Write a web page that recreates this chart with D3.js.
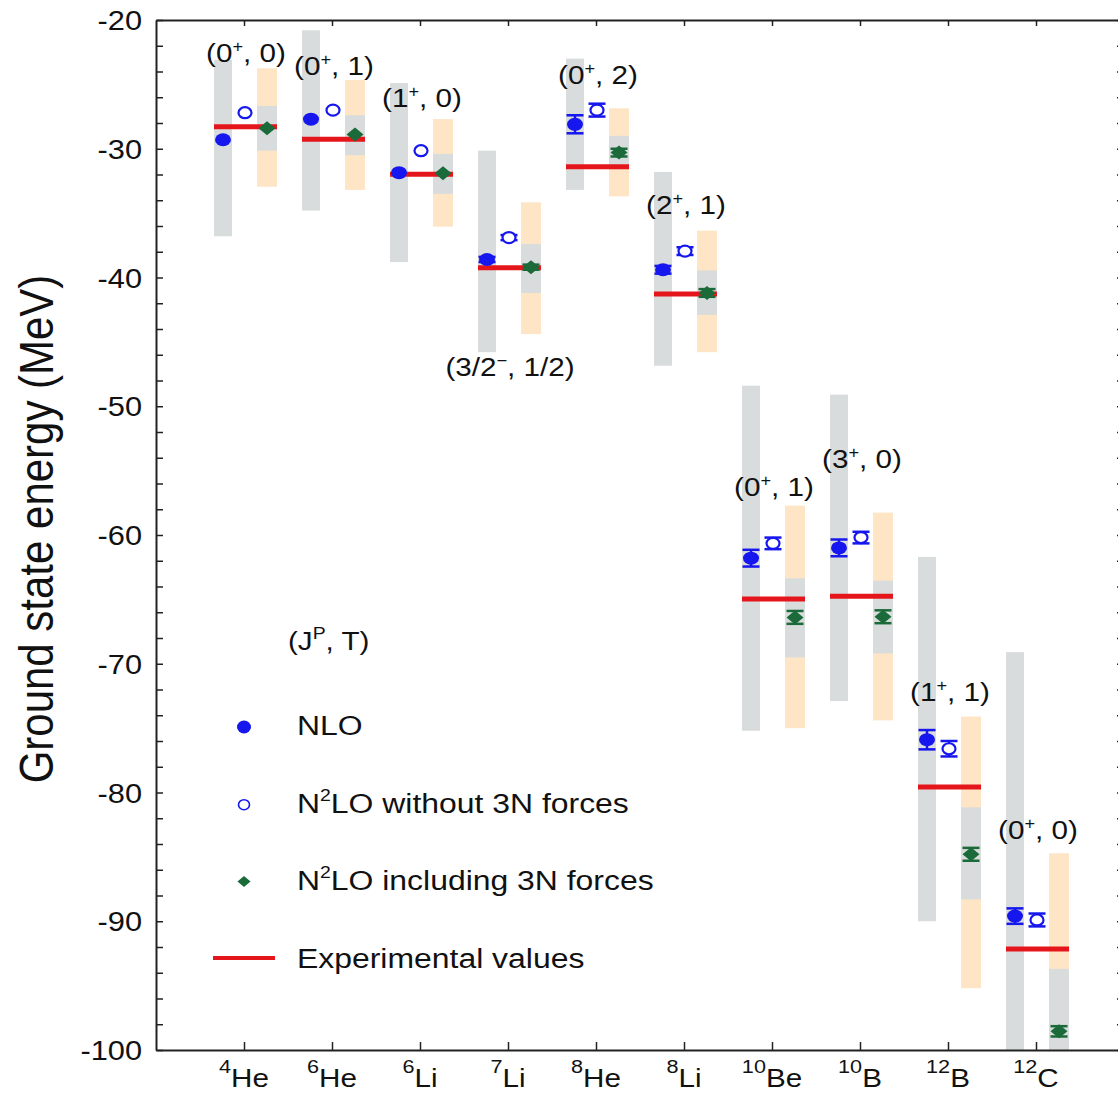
<!DOCTYPE html>
<html>
<head>
<meta charset="utf-8">
<script src="https://cdn.jsdelivr.net/npm/d3@7"></script>
<style>
  body { margin: 0; background: #fff; overflow: hidden; }
  text { font-family: "Liberation Sans", Arial, sans-serif; fill: #111; }
</style>
</head>
<body>
<svg id="chart" width="1118" height="1094"></svg>
<script>
// nuclei (x axis)
const massNumber = [4, 6, 6, 7, 8, 8, 10, 10, 12, 12]
const element = ['He', 'He', 'Li', 'Li', 'He', 'Li', 'Be', 'B', 'B', 'C']
const nuclei = massNumber.map((a, i) => a + element[i])

// quantum numbers (J^P, T) and the energy the label sits at
const spinJ = ['0', '0', '1', '3/2', '0', '2', '0', '3', '1', '0']
const parity = ['+', '+', '+', '\u2212', '+', '+', '+', '+', '+', '+']
const isospin = ['0', '1', '0', '1/2', '2', '1', '1', '0', '1', '0']
const labelE = [-22.7, -23.7, -26.2, -47.1, -24.4, -34.5, -56.4, -54.25, -72.35, -83.1]

// NLO uncertainty band (grey)
const nloBandTop = [-23.1, -20.8, -24.9, -30.15, -23.0, -31.8, -48.4, -49.1, -61.7, -69.1]
const nloBandBot = [-36.8, -34.8, -38.8, -45.8, -33.2, -46.85, -75.2, -72.9, -90.0, -110]
// N2LO uncertainty band (orange) with inner grey part
const n2loBandTop = [-23.75, -24.66, -27.7, -34.16, -26.86, -36.36, -57.72, -58.26, -74.1, -84.72]
const n2loBandBot = [-32.95, -33.2, -36.05, -44.4, -33.7, -45.8, -75.0, -74.4, -95.2, -112]
const n2loInnerTop = [-26.68, -27.4, -30.4, -37.4, -29.0, -39.45, -63.36, -63.55, -81.15, -93.7]
const n2loInnerBot = [-30.15, -30.5, -33.5, -41.2, -31.6, -42.9, -69.5, -69.2, -88.3, -104]

// central values and errors (MeV)
const nlo = [-29.3, -27.7, -31.86, -38.6, -28.1, -39.4, -61.8, -61.0, -75.9, -89.6]
const nloErr = [0, 0, 0, 0.2, 0.7, 0.3, 0.65, 0.65, 0.75, 0.6]
const n2lo = [-27.2, -27.0, -30.15, -36.9, -27.0, -37.95, -60.65, -60.2, -76.6, -89.9]
const n2loErr = [0, 0, 0, 0.2, 0.5, 0.3, 0.45, 0.45, 0.6, 0.5]
const n2lo3n = [-28.4, -28.9, -31.9, -39.2, -30.3, -41.2, -66.4, -66.35, -84.8, -98.55]
const n2lo3nErr = [0, 0, 0, 0.2, 0.3, 0.3, 0.5, 0.5, 0.5, 0.4]
const experiment = [-28.3, -29.27, -31.99, -39.24, -31.4, -41.28, -64.98, -64.75, -79.58, -92.16]

// axis + legend text
const yTicks = d3.range(-100, -19, 2)
const yTitle = 'Ground state energy (MeV)'
const legendTitle = [{ t: '(J' }, { t: 'P', sup: true }, { t: ', T)' }]
const legendLabels = [
  [{ t: 'NLO' }],
  [{ t: 'N' }, { t: '2', sup: true }, { t: 'LO without 3N forces' }],
  [{ t: 'N' }, { t: '2', sup: true }, { t: 'LO including 3N forces' }],
  [{ t: 'Experimental values' }],
]

// layout
const frame = { left: 156, right: 1124, top: 20, bottom: 1050 }
const SX = 1.14 // the original figure is a little stretched sideways
const col = { blue: '#1616ee', green: '#1b6a3a', red: '#e5161b', grey: '#d9dcdc', orange: '#fde5c5', axis: '#222' }

const rows = nuclei.map((name, i) => ({
  name, i,
  nloTop: nloBandTop[i], nloBot: nloBandBot[i],
  n2Top: n2loBandTop[i], n2Bot: n2loBandBot[i],
  inTop: n2loInnerTop[i], inBot: n2loInnerBot[i],
  nlo: nlo[i], nloErr: nloErr[i],
  n2lo: n2lo[i], n2loErr: n2loErr[i],
  n3: n2lo3n[i], n3Err: n2lo3nErr[i],
  exp: experiment[i],
}))

const x = d3.scalePoint().domain(nuclei).range([frame.left, frame.right]).padding(1)
const y = d3.scaleLinear().domain([-100, -20]).range([frame.bottom, frame.top])

const svg = d3.select('#chart')

// text helper: superscripts via tspans
function rich(sel, parts, supSize, shift) {
  let prevSup = false
  parts.forEach(p => {
    const ts = sel.append('tspan').text(p.t)
    if (p.sup) ts.attr('font-size', supSize).attr('dy', -shift)
    else if (prevSup) ts.attr('dy', shift)
    prevSup = !!p.sup
  })
  return sel
}
const place = (px, py, rot) => `translate(${px},${py}) scale(${SX},1)` + (rot ? ` rotate(${rot})` : '')

svg.append('defs').append('clipPath').attr('id', 'plot-clip')
  .append('rect')
    .attr('x', frame.left).attr('y', frame.top)
    .attr('width', frame.right - frame.left).attr('height', frame.bottom - frame.top)

// Bands
// =====
const plot = svg.append('g').attr('clip-path', 'url(#plot-clip)')
const band = (cls, dx, w, top, bot, fill) => plot.append('g').attr('class', cls)
  .selectAll('rect')
  .data(rows)
  .join('rect')
    .attr('x', d => x(d.name) + dx)
    .attr('width', w)
    .attr('y', d => y(top(d)))
    .attr('height', d => y(bot(d)) - y(top(d)))
    .attr('fill', fill)

band('nlo-band', -30, 18, d => d.nloTop, d => d.nloBot, col.grey)
band('n2lo-band', 13, 20, d => d.n2Top, d => d.n2Bot, col.orange)
band('n2lo-inner', 13, 20, d => d.inTop, d => d.inBot, col.grey)

// experimental values
plot.append('g').attr('class', 'exp')
  .selectAll('line')
  .data(rows)
  .join('line')
    .attr('x1', d => x(d.name) - 30)
    .attr('x2', d => x(d.name) + 33)
    .attr('y1', d => y(d.exp))
    .attr('y2', d => y(d.exp))
    .attr('stroke', col.red)
    .attr('stroke-width', 5)

// Points with error bars
// ======================
function errorBars(cls, dx, val, err, color) {
  const g = plot.append('g').attr('class', cls)
    .selectAll('g')
    .data(rows.filter(d => err(d) > 0))
    .join('g')
      .attr('transform', d => `translate(${x(d.name) + dx},0)`)
      .attr('stroke', color)
      .attr('stroke-width', 2.5)
  g.append('line').attr('y1', d => y(val(d) + err(d))).attr('y2', d => y(val(d) - err(d)))
  g.append('line').attr('x1', -8.5).attr('x2', 8.5).attr('y1', d => y(val(d) + err(d))).attr('y2', d => y(val(d) + err(d)))
  g.append('line').attr('x1', -8.5).attr('x2', 8.5).attr('y1', d => y(val(d) - err(d))).attr('y2', d => y(val(d) - err(d)))
}
errorBars('nlo-err', -21, d => d.nlo, d => d.nloErr, col.blue)
errorBars('n2lo-err', 1, d => d.n2lo, d => d.n2loErr, col.blue)
errorBars('n3-err', 23, d => d.n3, d => d.n3Err, col.green)

plot.append('g').attr('class', 'nlo')
  .selectAll('ellipse')
  .data(rows)
  .join('ellipse')
    .attr('cx', d => x(d.name) - 21)
    .attr('cy', d => y(d.nlo))
    .attr('rx', 8).attr('ry', 6.5)
    .attr('fill', col.blue)

plot.append('g').attr('class', 'n2lo')
  .selectAll('ellipse')
  .data(rows)
  .join('ellipse')
    .attr('cx', d => x(d.name) + 1)
    .attr('cy', d => y(d.n2lo))
    .attr('rx', 6.5).attr('ry', 5.5)
    .attr('fill', '#fff')
    .attr('stroke', col.blue)
    .attr('stroke-width', 2.2)

const diamond = (w, h) => `M0,${-h}L${w},0L0,${h}L${-w},0Z`
plot.append('g').attr('class', 'n2lo3n')
  .selectAll('path')
  .data(rows)
  .join('path')
    .attr('transform', d => `translate(${x(d.name) + 23},${y(d.n3)})`)
    .attr('d', diamond(8.5, 7))
    .attr('fill', col.green)

// (J^P, T) labels
svg.append('g').attr('class', 'qn')
  .selectAll('text')
  .data(rows)
  .join('text')
    .attr('transform', d => place(x(d.name) + 2, y(labelE[d.i]) + 7))
    .attr('text-anchor', 'middle')
    .attr('font-size', 26)
    .each(function (d) {
      rich(d3.select(this), [{ t: '(' + spinJ[d.i] }, { t: parity[d.i], sup: true }, { t: ', ' + isospin[d.i] + ')' }], 16, 10)
    })

// Axes
// ====
const axes = svg.append('g').attr('class', 'axes')
const yAxisL = axes.append('g')
    .attr('transform', `translate(${frame.left},0)`)
    .call(d3.axisLeft(y).tickValues(yTicks).tickSizeInner(-7).tickSizeOuter(0)
      .tickFormat(d => d % 10 === 0 ? d : ''))
yAxisL.selectAll('text')
    .attr('x', -14 / SX)
    .attr('dy', '0.36em')
    .attr('font-size', 27)
    .attr('transform', `scale(${SX},1)`)

axes.append('g')
    .attr('transform', `translate(${frame.right},0)`)
    .call(d3.axisRight(y).tickValues(yTicks).tickSizeInner(-7).tickSizeOuter(0).tickFormat(''))
axes.append('g')
    .attr('transform', `translate(0,${frame.top})`)
    .call(d3.axisTop(x).tickSizeInner(-6).tickSizeOuter(0).tickFormat(''))
axes.append('g')
    .attr('transform', `translate(0,${frame.bottom})`)
    .call(d3.axisBottom(x).tickSizeInner(-8).tickSizeOuter(0).tickFormat(''))

axes.selectAll('.domain').attr('stroke', col.axis).attr('stroke-width', 2)
axes.selectAll('.tick line').attr('stroke', col.axis).attr('stroke-width', 1.5)

// nucleus labels
axes.append('g').attr('class', 'x-labels')
  .selectAll('text')
  .data(rows)
  .join('text')
    .attr('transform', d => place(x(d.name), 1087))
    .attr('text-anchor', 'middle')
    .attr('font-size', 26)
    .each(function (d) {
      rich(d3.select(this), [{ t: String(massNumber[d.i]), sup: true }, { t: element[d.i] }], 19, 14)
    })

svg.append('text')
    .attr('transform', place(53, 529, -90))
    .attr('text-anchor', 'middle')
    .attr('font-size', 42)
    .text(yTitle)

// Legend
// ======
const legend = svg.append('g').attr('class', 'legend')
rich(legend.append('text').attr('transform', place(288, 650)).attr('font-size', 26), legendTitle, 17, 11)

const legendRow = i => 725 + i * 77.7
legend.selectAll('text.item')
  .data(legendLabels)
  .join('text')
    .attr('class', 'item')
    .attr('transform', (d, i) => place(297, legendRow(i) + 10))
    .attr('font-size', 28)
    .each(function (d) { rich(d3.select(this), d, 17, 12) })

legend.append('ellipse')
    .attr('cx', 244).attr('cy', legendRow(0) + 2)
    .attr('rx', 7).attr('ry', 6.5)
    .attr('fill', col.blue)
legend.append('ellipse')
    .attr('cx', 244).attr('cy', legendRow(1) + 2)
    .attr('rx', 5.5).attr('ry', 5)
    .attr('fill', '#fff').attr('stroke', col.blue).attr('stroke-width', 1.6)
legend.append('path')
    .attr('transform', `translate(244,${legendRow(2) + 1})`)
    .attr('d', diamond(6.5, 5.5))
    .attr('fill', col.green)
legend.append('line')
    .attr('x1', 213).attr('x2', 275)
    .attr('y1', legendRow(3)).attr('y2', legendRow(3))
    .attr('stroke', col.red).attr('stroke-width', 4)
</script>
</body>
</html>
